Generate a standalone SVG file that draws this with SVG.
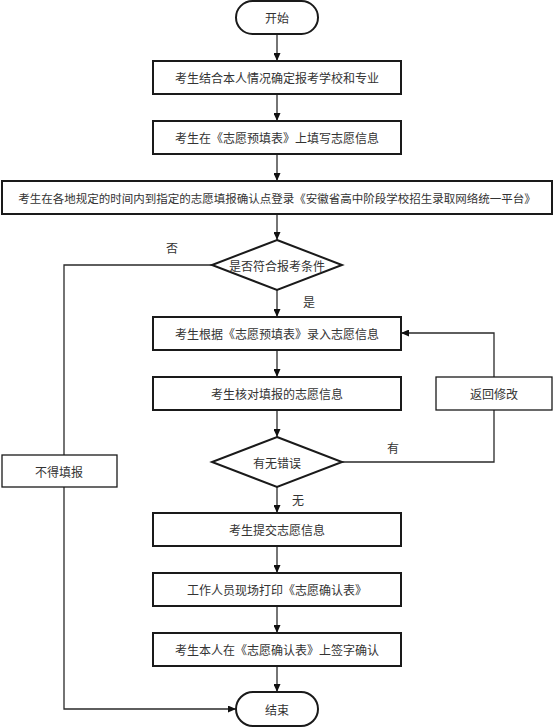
<svg xmlns="http://www.w3.org/2000/svg" width="554" height="728" viewBox="0 0 554 728">
<style>
.n{fill:#fff;stroke:#1a1a1a;stroke-width:2}
.t{font-family:"Noto Sans CJK SC","Noto Sans",sans-serif;font-size:12px;fill:#333;text-anchor:middle;dominant-baseline:central}
.c{fill:none;stroke:#2a2a2a;stroke-width:1.3}
</style>
<defs>
<marker id="a" markerWidth="8" markerHeight="7" refX="8" refY="3.5" orient="auto" markerUnits="userSpaceOnUse">
<path d="M0,0 L8,3.5 L0,7 Z" fill="#111"/>
</marker>
</defs>
<rect width="554" height="728" fill="#fff"/>
<g id="connectors">
<line class="c" x1="277" y1="34" x2="277" y2="61" marker-end="url(#a)"/>
<line class="c" x1="277" y1="94" x2="277" y2="121" marker-end="url(#a)"/>
<line class="c" x1="277" y1="154" x2="277" y2="181" marker-end="url(#a)"/>
<line class="c" x1="277" y1="214" x2="277" y2="240" marker-end="url(#a)"/>
<line class="c" x1="277" y1="290" x2="277" y2="317" marker-end="url(#a)"/>
<line class="c" x1="277" y1="350" x2="277" y2="377" marker-end="url(#a)"/>
<line class="c" x1="277" y1="410" x2="277" y2="437" marker-end="url(#a)"/>
<line class="c" x1="277" y1="487" x2="277" y2="513" marker-end="url(#a)"/>
<line class="c" x1="277" y1="546" x2="277" y2="573" marker-end="url(#a)"/>
<line class="c" x1="277" y1="606" x2="277" y2="633" marker-end="url(#a)"/>
<line class="c" x1="277" y1="666" x2="277" y2="692" marker-end="url(#a)"/>
<polyline class="c" points="212,265 64,265 64,455"/>
<polyline class="c" points="64,487 64,709 236,709" marker-end="url(#a)"/>
<polyline class="c" points="342,462 494,462 494,410"/>
<polyline class="c" points="494,377 494,333 401,333" marker-end="url(#a)"/>
<text class="t" x="172" y="247">否</text>
<text class="t" x="309" y="301">是</text>
<text class="t" x="393" y="447">有</text>
<text class="t" x="298" y="499">无</text>
</g>
<g id="start"><rect class="n" x="236" y="1" width="82" height="33" rx="16.5"/><text class="t" x="277" y="17.5">开始</text></g>
<g id="b1"><rect class="n" x="153" y="61" width="248" height="33"/><text class="t" x="277" y="77.5">考生结合本人情况确定报考学校和专业</text></g>
<g id="b2"><rect class="n" x="153" y="121" width="248" height="33"/><text class="t" x="277" y="137.5">考生在《志愿预填表》上填写志愿信息</text></g>
<g id="b3"><rect class="n" x="2" y="181" width="550" height="33"/><text class="t" x="277" y="197.5" style="font-size:11.5px">考生在各地规定的时间内到指定的志愿填报确认点登录《安徽省高中阶段学校招生录取网络统一平台》</text></g>
<g id="d1"><polygon class="n" points="277,240 342,265 277,290 212,265"/><text class="t" x="277" y="265">是否符合报考条件</text></g>
<g id="b4"><rect class="n" x="153" y="317" width="248" height="33"/><text class="t" x="277" y="333.5">考生根据《志愿预填表》录入志愿信息</text></g>
<g id="b5"><rect class="n" x="153" y="377" width="248" height="33"/><text class="t" x="277" y="393.5">考生核对填报的志愿信息</text></g>
<g id="back"><rect class="n" x="436" y="377" width="116" height="33" style="stroke-width:1.3"/><text class="t" x="494" y="393.5">返回修改</text></g>
<g id="d2"><polygon class="n" points="277,437 342,462 277,487 212,462"/><text class="t" x="277" y="462">有无错误</text></g>
<g id="no"><rect class="n" x="2" y="455" width="115" height="32" style="stroke-width:1.3"/><text class="t" x="59" y="471">不得填报</text></g>
<g id="b6"><rect class="n" x="153" y="513" width="248" height="33"/><text class="t" x="277" y="529.5">考生提交志愿信息</text></g>
<g id="b7"><rect class="n" x="153" y="573" width="248" height="33"/><text class="t" x="277" y="589.5">工作人员现场打印《志愿确认表》</text></g>
<g id="b8"><rect class="n" x="153" y="633" width="248" height="33"/><text class="t" x="277" y="649.5">考生本人在《志愿确认表》上签字确认</text></g>
<g id="end"><rect class="n" x="236" y="692" width="82" height="34" rx="17"/><text class="t" x="277" y="709">结束</text></g>
</svg>
